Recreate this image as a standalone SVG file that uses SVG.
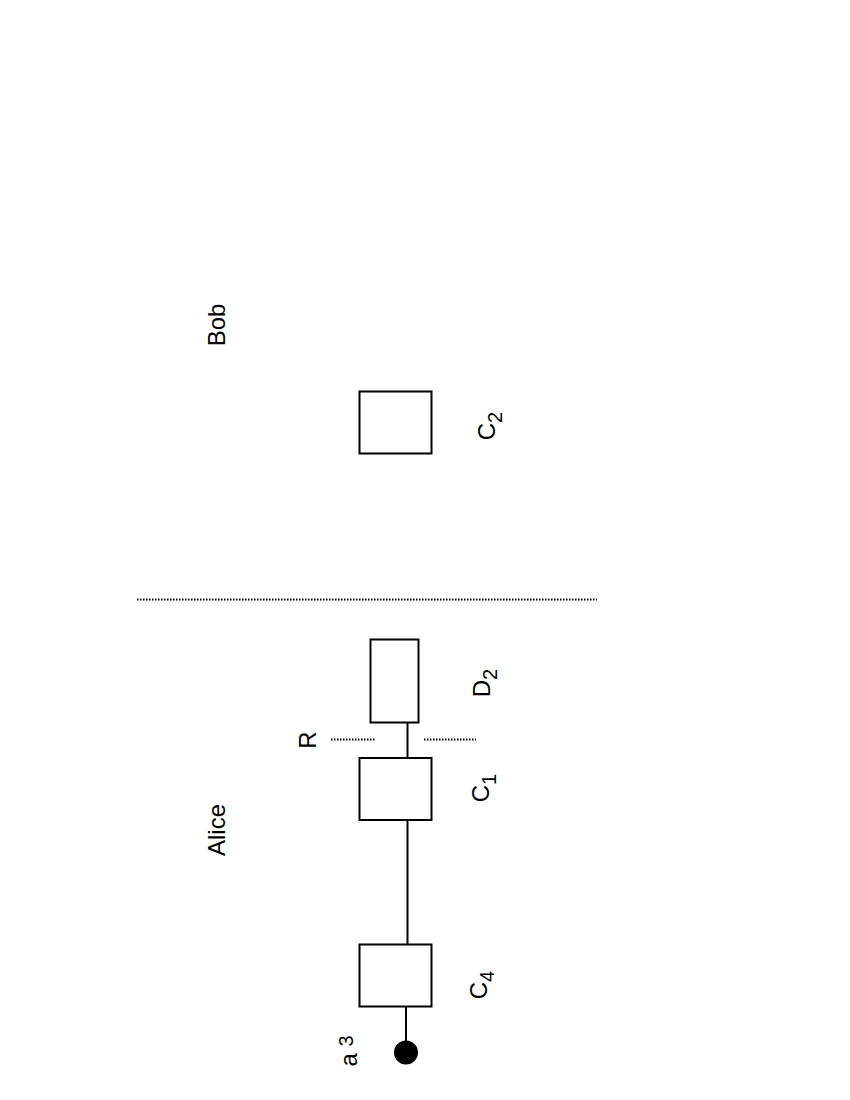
<svg xmlns="http://www.w3.org/2000/svg" width="850" height="1100" viewBox="0 0 850 1100">
<style>
.box{fill:#fff;stroke:#000;stroke-width:2}
.wire{stroke:#000;stroke-width:2;fill:none}
.dot{stroke:#000;stroke-width:2;stroke-dasharray:1.5 1.5;fill:none}
text{font-family:"Liberation Sans",Arial,sans-serif;font-size:24px;fill:#000}
.sub{font-size:20px}
</style>
<rect width="850" height="1100" fill="#fff"/>
<g id="connectors">
<line class="wire" x1="407.5" y1="722" x2="407.5" y2="758"/>
<line class="wire" x1="407.5" y1="821" x2="407.5" y2="944"/>
<line class="wire" x1="406" y1="1006" x2="406" y2="1045"/>
<line class="dot" x1="137" y1="599.5" x2="597" y2="599.5"/>
<line class="dot" x1="331" y1="739.5" x2="375" y2="739.5"/>
<line class="dot" x1="424" y1="739.5" x2="476" y2="739.5"/>
</g>
<g id="bob"><text transform="translate(225,325) rotate(-90)" text-anchor="middle">Bob</text></g>
<g id="alice"><text transform="translate(225,830) rotate(-90)" text-anchor="middle">Alice</text></g>
<g id="C2">
<rect class="box" x="359.5" y="391.5" width="72" height="62"/>
<text transform="translate(495,426) rotate(-90)" text-anchor="middle">C<tspan class="sub" dy="7">2</tspan></text>
</g>
<g id="D2">
<rect class="box" x="370.5" y="639.5" width="48" height="83"/>
<text transform="translate(490,683) rotate(-90)" text-anchor="middle">D<tspan class="sub" dy="7">2</tspan></text>
</g>
<g id="R"><text transform="translate(316,740) rotate(-90)" text-anchor="middle">R</text></g>
<g id="C1">
<rect class="box" x="359.5" y="758" width="72" height="62"/>
<text transform="translate(489,788) rotate(-90)" text-anchor="middle">C<tspan class="sub" dy="7">1</tspan></text>
</g>
<g id="C4">
<rect class="box" x="359.5" y="944.5" width="72" height="62"/>
<text transform="translate(487,985) rotate(-90)" text-anchor="middle">C<tspan class="sub" dy="7">4</tspan></text>
</g>
<g id="a3">
<circle cx="406" cy="1052.5" r="12" fill="#000"/>
<text transform="translate(357,1051) rotate(-90)" text-anchor="middle">a <tspan class="sub" dy="-4">3</tspan></text>
</g>
</svg>
